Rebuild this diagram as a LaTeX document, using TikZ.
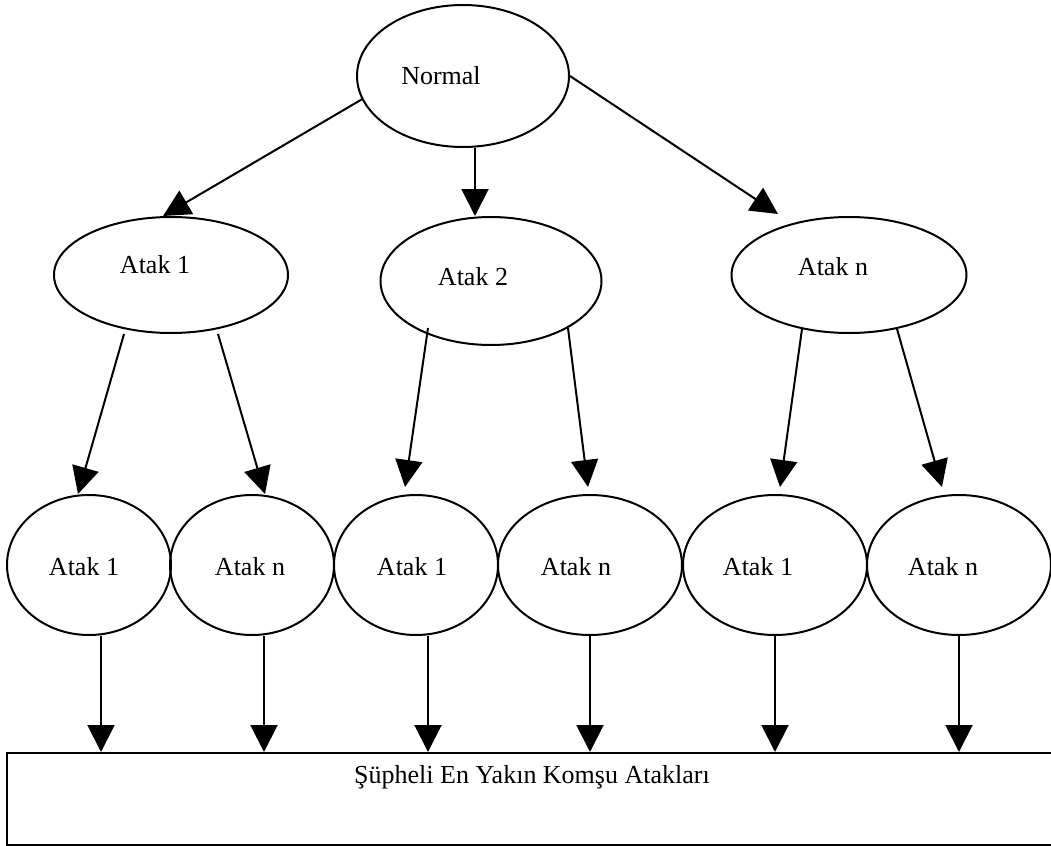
\documentclass[tikz,border=0pt]{standalone}
\usepackage{fontspec}
\setmainfont{Liberation Serif}
\usepackage{tikz}
\usetikzlibrary{shapes.geometric, arrows.meta}
\tikzset{
    durum/.style={ellipse, draw, line width=1pt, inner sep=0pt},
    ustdurum/.style={durum, minimum width=117pt, minimum height=58pt},
    altdurum/.style={durum, minimum width=82pt, minimum height=70pt},
    genisdurum/.style={durum, minimum width=92pt, minimum height=70pt},
    etiket/.style={font=\fontsize{13}{15}\selectfont, inner sep=0pt},
    kutu/.style={rectangle, draw, line width=1pt, inner sep=0pt},
    ok/.style={-{Triangle[length=13.5pt, width=13.5pt]}, line width=1pt}
}

\begin{document}
\begin{tikzpicture}[x=0.5pt, y=-0.5pt]
    \useasboundingbox (0,0) rectangle (1051,846);
    % kok
    \node[durum, minimum width=106pt, minimum height=71pt,
          label={[etiket, xshift=-11pt]center:Normal}] (normal) at (463,76) {};
    % ikinci seviye
    \node[ustdurum, label={[etiket, xshift=-8pt, yshift=5pt]center:Atak 1}] (atak1) at (171,275) {};
    \node[durum, minimum width=110.5pt, minimum height=64pt,
          label={[etiket, xshift=-9pt, yshift=2pt]center:Atak 2}] (atak2) at (491,281) {};
    \node[ustdurum, minimum width=117.5pt,
          label={[etiket, xshift=-8pt, yshift=4pt]center:Atak n}] (atakn) at (849,275) {};
    % ucuncu seviye
    \node[altdurum, label={[etiket, xshift=-2.5pt, yshift=-1pt]center:Atak 1}] (a11) at (89,565) {};
    \node[altdurum, label={[etiket, xshift=-1pt, yshift=-1pt]center:Atak n}] (a1n) at (252,565) {};
    \node[altdurum, label={[etiket, xshift=-2pt, yshift=-1pt]center:Atak 1}] (a21) at (416,565) {};
    \node[genisdurum, label={[etiket, xshift=-7pt, yshift=-1pt]center:Atak n}] (a2n) at (590,565) {};
    \node[genisdurum, label={[etiket, xshift=-8.5pt, yshift=-1pt]center:Atak 1}] (an1) at (775,565) {};
    \node[genisdurum, label={[etiket, xshift=-8pt, yshift=-1pt]center:Atak n}] (ann) at (959,565) {};
    % sonuc kutusu
    \node[kutu, minimum width=529pt, minimum height=46pt,
          label={[etiket, xshift=-2pt, yshift=11pt]center:Şüpheli En Yakın Komşu Atakları}] (sonuc) at (536,799) {};

    \draw[ok] (normal.193) -- ([xshift=-4pt]atak1.north);
    \draw[ok] ([xshift=6pt]normal.south) -- ([xshift=6pt]normal.south |- atak2.north);
    \draw[ok] (normal.east) -- ([xshift=-35.5pt, yshift=1pt]atakn.north);

    \draw[ok] ([xshift=-23.5pt]atak1.south) -- ([xshift=-5.5pt]a11.north);
    \draw[ok] ([xshift=23.5pt]atak1.south) -- ([xshift=6.5pt]a1n.north);
    \draw[ok] ([xshift=-31.5pt, yshift=9pt]atak2.south) -- ([xshift=-5.5pt, yshift=3.5pt]a21.north);
    \draw[ok] ([xshift=38.5pt, yshift=9pt]atak2.south) -- ([xshift=-1pt, yshift=3.5pt]a2n.north);
    \draw[ok] ([xshift=-23.5pt, yshift=2.5pt]atakn.south) -- ([xshift=2.5pt, yshift=3.5pt]an1.north);
    \draw[ok] ([xshift=24pt, yshift=2.5pt]atakn.south) -- ([xshift=-8.5pt, yshift=3.5pt]ann.north);

    \foreach \n/\s in {a11/6, a1n/6, a21/6, a2n/0, an1/0, ann/0}
        \draw[ok] ([xshift=\s pt]\n.south) -- ([xshift=\s pt]\n.south |- sonuc.north);
\end{tikzpicture}
\end{document}
